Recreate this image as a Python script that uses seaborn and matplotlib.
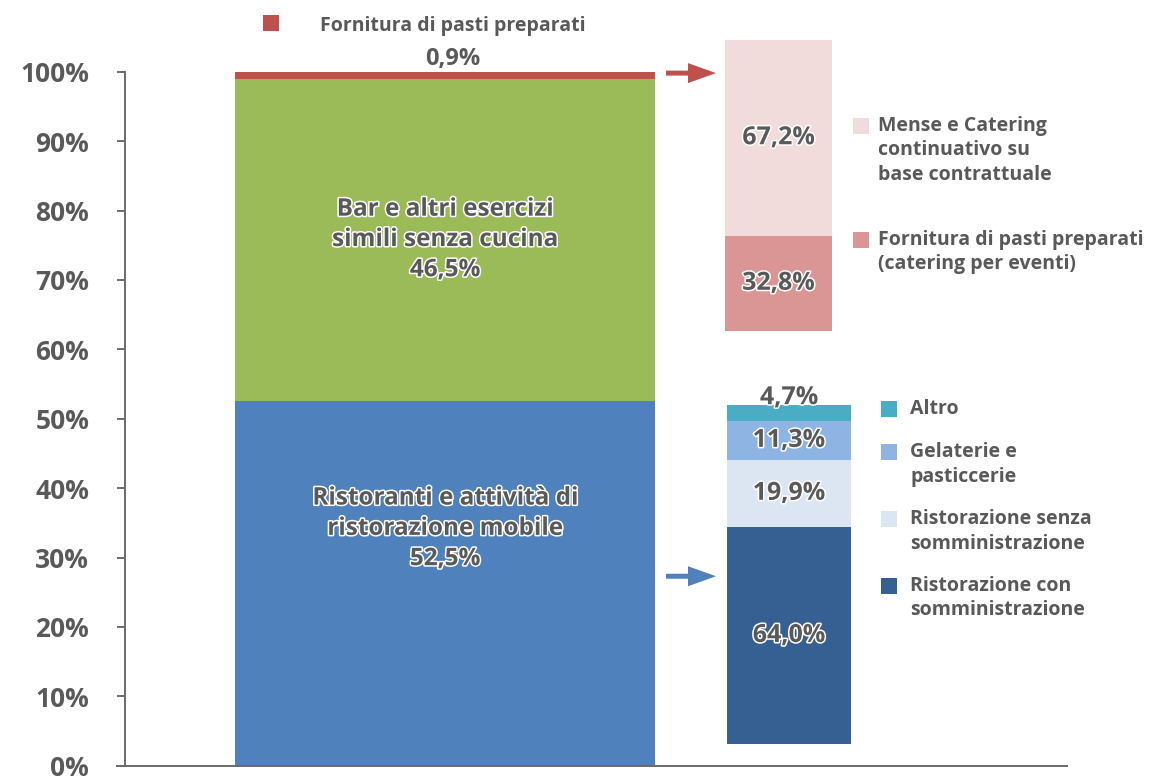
import numpy as np
import matplotlib
matplotlib.use("Agg")
import matplotlib.pyplot as plt
import matplotlib.patheffects as pe
from matplotlib.patches import Rectangle
import seaborn as sns

# ---------------- data ----------------
main_labels = ["Ristoranti e attività di\nristorazione mobile",
               "Bar e altri esercizi\nsimili senza cucina",
               "Fornitura di pasti preparati"]
main_values = [52.5, 46.5, 0.9]
main_colors = ["#4F81BD", "#9BBB59", "#C0504D"]

catering_labels = ["Fornitura di pasti preparati\n(catering per eventi)",
                   "Mense e Catering\ncontinuativo su\nbase contrattuale"]
catering_values = [32.8, 67.2]
catering_colors = ["#D99694", "#F2DCDB"]

rist_labels = ["Ristorazione con\nsomministrazione",
               "Ristorazione senza\nsomministrazione",
               "Gelaterie e\npasticcerie",
               "Altro"]
rist_values = [64.0, 19.9, 11.3, 4.7]
rist_colors = ["#376092", "#DCE6F2", "#8DB4E2", "#4BACC6"]

ytick_values = list(range(0, 101, 10))
ytick_labels = [f"{v}%" for v in ytick_values]

# ---------------- style ----------------
sns.set_theme(style="white")
plt.rcParams["font.family"] = ["Open Sans", "DejaVu Sans"]
plt.rcParams["font.weight"] = "bold"
TXT = "#595959"
outline = [pe.withStroke(linewidth=2.2, foreground="white")]


def fmt(v):
    return f"{v:.1f}".replace(".", ",") + "%"


fig = plt.figure(figsize=(11.49, 7.80), dpi=100)
ax = fig.add_axes([0, 0, 1, 1])
PX = 6.94                      # pixels per percent
ax.set_xlim(0, 1149)
ax.set_ylim(-(780 - 765.7) / PX, 765.7 / PX)


def stack(values, colors, cx, width, base, scale):
    bottoms = base + np.concatenate([[0], np.cumsum(values)[:-1]]) * scale
    for v, c, b in zip(values, colors, bottoms):
        sns.barplot(x=[cx], y=[v * scale], bottom=b, width=width, color=c,
                    saturation=1, errorbar=None, native_scale=True,
                    orient="x", linewidth=0, ax=ax)
    return bottoms


# main bar
mb = stack(main_values, main_colors, 445, 420, 0.0, 1.0)
# detail bars (zoomed breakdowns)
CAT_BASE, CAT_SCALE = 62.64, 0.4193
RIS_BASE, RIS_SCALE = 3.13, 0.4885
cb = stack(catering_values, catering_colors, 778.5, 107, CAT_BASE, CAT_SCALE)
rb = stack(rist_values, rist_colors, 789, 124, RIS_BASE, RIS_SCALE)

# main bar labels
label_frac = [0.65, 0.5]
for i in range(2):
    y = mb[i] + main_values[i] * label_frac[i]
    ax.text(445, y, main_labels[i] + "\n" + fmt(main_values[i]), ha="center",
            va="center", fontsize=17.5, color=TXT, linespacing=1.35,
            path_effects=outline)

# detail labels
for v, b in zip(catering_values, cb):
    ax.text(778.5, b + v * CAT_SCALE / 2, fmt(v), ha="center", va="center",
            fontsize=18, color=TXT, path_effects=outline)
for i, (v, b) in enumerate(zip(rist_values, rb)):
    y = b + v * RIS_SCALE / 2
    if i == len(rist_values) - 1:
        y = b + v * RIS_SCALE + 1.1
    ax.text(789, y, fmt(v), ha="center", va="center",
            fontsize=18, color=TXT, path_effects=outline)

# top legend for small red segment
ax.add_patch(Rectangle((263, 105.9), 16, 16 / PX, color=main_colors[2], lw=0))
ax.text(320, 106.6, main_labels[2], ha="left", va="center", fontsize=14,
        color=TXT)
ax.text(453, 101.9, fmt(main_values[2]), ha="center", va="center",
        fontsize=17, color=TXT)

# arrows
ax.arrow(666, 99.8, 50, 0, width=5 / PX, head_width=20 / PX, head_length=28,
         length_includes_head=True, color=main_colors[2], lw=0)
ax.arrow(666, 27.3, 50, 0, width=5 / PX, head_width=20 / PX, head_length=28,
         length_includes_head=True, color=main_colors[0], lw=0)

# side legends
LS = 24.5 / PX


def legend_item(x_sq, x_txt, y, label, color):
    ax.add_patch(Rectangle((x_sq, y - 8 / PX), 16, 16 / PX, color=color, lw=0))
    for k, line in enumerate(label.split("\n")):
        ax.text(x_txt, y - k * LS, line, ha="left", va="center",
                fontsize=14, color=TXT)


cat_leg_y = [75.8, 92.2]
for lab, col, y in zip(catering_labels, catering_colors, cat_leg_y):
    legend_item(853, 878, y, lab, col)

rist_leg_y = [25.9, 35.5, 45.2, 51.4]
for lab, col, y in zip(rist_labels, rist_colors, rist_leg_y):
    legend_item(881, 910, y, lab, col)

# axes styling
for s in ["top", "right"]:
    ax.spines[s].set_visible(False)
ax.spines["left"].set_position(("data", 125))
ax.spines["left"].set_bounds(0, 100)
ax.spines["bottom"].set_position(("data", 0))
ax.spines["bottom"].set_bounds(117, 1067)
for s in ["left", "bottom"]:
    ax.spines[s].set_color("#6B6B6B")
    ax.spines[s].set_linewidth(1.4)
ax.set_yticks(ytick_values)
ax.set_yticklabels(ytick_labels)
ax.tick_params(axis="y", direction="out", length=5.8, width=1.4,
               color="#6B6B6B", pad=20, labelsize=19, labelcolor=TXT,
               left=True)
ax.set_xticks([])
ax.set_xlabel("")
ax.set_ylabel("")
ax.set_facecolor("white")
ax.set_xlim(0, 1149)
ax.set_ylim(-(780 - 765.7) / PX, 765.7 / PX)

fig.savefig("out.png", dpi=100, facecolor="white")
